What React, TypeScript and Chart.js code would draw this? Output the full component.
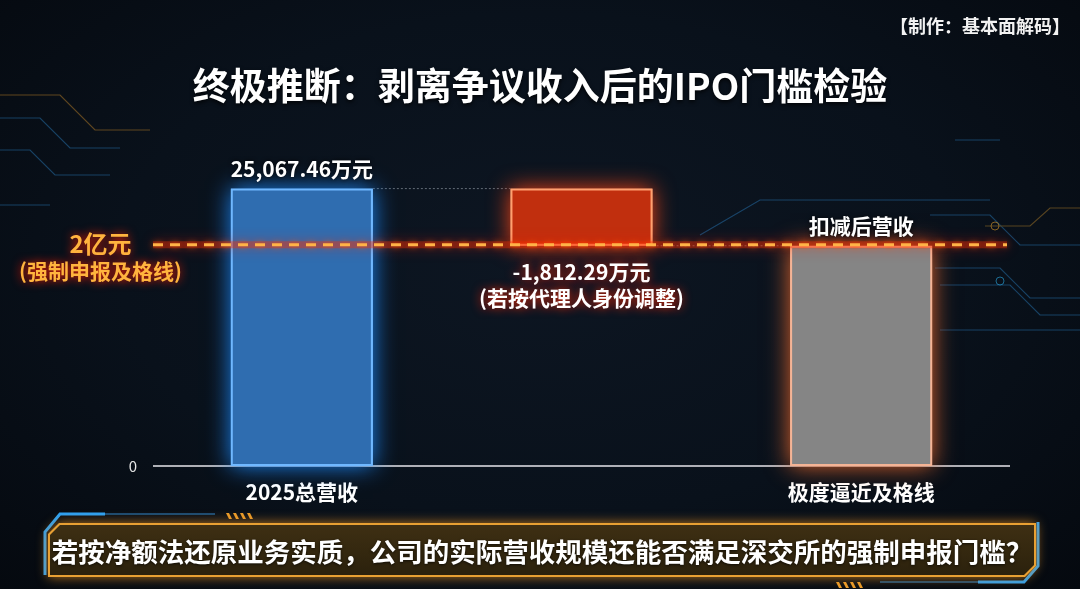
import React, { useEffect, useRef } from 'react';
import { Chart, registerables } from 'chart.js';

Chart.register(...registerables);

// ---- data ----
const categories = ['2025总营收', '', '极度逼近及格线'];
const barStarts = [0, 19900, 0];
const barEnds = [25067.46, 25067.46, 19900];
const valueLabels = ['25,067.46万元', '-1,812.29万元', '扣减后营收'];
const subLabels = ['', '(若按代理人身份调整)', ''];
const labelPlacement = ['above', 'below', 'above'];
const thresholdValue = 20000;
const thresholdLabels = ['2亿元', '(强制申报及格线)'];
const yTicks = [0];
const yMax = 30000;
const titleText = '终极推断：剥离争议收入后的IPO门槛检验';
const creditText = '【制作：基本面解码】';
const bannerText = '若按净额法还原业务实质，公司的实际营收规模还能否满足深交所的强制申报门槛？';

// ---- styles ----
const FONT = '"Noto Sans CJK SC", "Noto Sans", sans-serif';
const fillColors = ['#2f6db0', '#c12f0e', '#858585'];
const borderColors = ['#70b8ff', '#ffa070', '#f4b496'];
const glowColors = ['rgba(30,140,255,0.95)', 'rgba(255,70,20,0.95)', 'rgba(235,105,45,0.95)'];

const decorPlugin = {
  id: 'decor',
  beforeDatasetsDraw(chart: any) {
    const { ctx, chartArea, scales } = chart;
    const ys = scales.y;
    const y0 = ys.getPixelForValue(0);
    ctx.save();
    ctx.strokeStyle = 'rgba(205,205,210,0.85)';
    ctx.lineWidth = 2;
    ctx.beginPath();
    ctx.moveTo(chartArea.left - 9, y0);
    ctx.lineTo(chartArea.right + 9, y0);
    ctx.stroke();
    ctx.restore();

    const meta = chart.getDatasetMeta(0);
    // connectors
    ctx.save();
    ctx.strokeStyle = 'rgba(170,180,190,0.55)';
    ctx.lineWidth = 1;
    ctx.setLineDash([2, 2]);
    for (let i = 0; i < meta.data.length - 1; i++) {
      const a = meta.data[i].getProps(['x', 'y', 'base', 'width'], true);
      const b = meta.data[i + 1].getProps(['x', 'y', 'base', 'width'], true);
      const yy = i === 0 ? a.y : a.base;
      ctx.beginPath();
      ctx.moveTo(a.x + a.width / 2, yy);
      ctx.lineTo(b.x - b.width / 2, yy);
      ctx.stroke();
    }
    ctx.restore();

    // glow
    meta.data.forEach((bar: any, i: number) => {
      const p = bar.getProps(['x', 'y', 'base', 'width'], true);
      ctx.save();
      ctx.shadowColor = glowColors[i];
      ctx.shadowBlur = 22;
      ctx.fillStyle = borderColors[i];
      ctx.fillRect(p.x - p.width / 2, Math.min(p.y, p.base), p.width, Math.abs(p.base - p.y));
      ctx.restore();
    });
  },
  afterDatasetsDraw(chart: any) {
    const { ctx, chartArea, scales } = chart;
    const ys = scales.y;
    const ty = ys.getPixelForValue(thresholdValue);
    const x1 = chartArea.left - 9;
    const x2 = chartArea.right + 6;

    // threshold glow band
    ctx.save();
    ctx.strokeStyle = 'rgba(255,40,0,0.35)';
    ctx.lineWidth = 7;
    ctx.shadowColor = 'rgba(255,30,0,0.9)';
    ctx.shadowBlur = 14;
    ctx.beginPath();
    ctx.moveTo(x1, ty);
    ctx.lineTo(x2, ty);
    ctx.stroke();
    ctx.restore();

    ctx.save();
    ctx.strokeStyle = '#ffb347';
    ctx.lineWidth = 3;
    ctx.setLineDash([10, 7]);
    ctx.shadowColor = 'rgba(255,90,0,0.9)';
    ctx.shadowBlur = 6;
    ctx.beginPath();
    ctx.moveTo(x1, ty);
    ctx.lineTo(x2, ty);
    ctx.stroke();
    ctx.restore();

    // threshold labels
    ctx.save();
    ctx.textAlign = 'center';
    ctx.textBaseline = 'middle';
    ctx.fillStyle = '#ffb43e';
    ctx.shadowColor = 'rgba(255,30,0,1)';
    ctx.shadowBlur = 10;
    ctx.font = `bold 24px ${FONT}`;
    const lx = (chartArea.left - 9) / 2 + 22;
    ctx.fillText(thresholdLabels[0], lx + 2, ty - 1);
    ctx.font = `bold 21px ${FONT}`;
    ctx.fillText(thresholdLabels[1], lx + 2, ty + 26);
    ctx.restore();

    // bar labels
    const meta = chart.getDatasetMeta(0);
    meta.data.forEach((bar: any, i: number) => {
      const p = bar.getProps(['x', 'y', 'base'], true);
      ctx.save();
      ctx.textAlign = 'center';
      ctx.textBaseline = 'middle';
      ctx.fillStyle = '#ffffff';
      if (labelPlacement[i] === 'above') {
        ctx.shadowColor = 'rgba(0,0,0,0.8)';
        ctx.shadowBlur = 4;
        ctx.font = `bold 21px ${FONT}`;
        ctx.fillText(valueLabels[i], p.x, Math.min(p.y, p.base) - 20);
      } else {
        ctx.shadowColor = 'rgba(255,40,0,0.9)';
        ctx.shadowBlur = 10;
        const bottom = Math.max(p.y, p.base);
        ctx.font = `bold 21px ${FONT}`;
        ctx.fillText(valueLabels[i], p.x, bottom + 26);
        ctx.font = `bold 21px ${FONT}`;
        ctx.fillText(subLabels[i], p.x, bottom + 52);
      }
      ctx.restore();
    });
  },
};

function Decorations() {
  return (
    <svg width={1080} height={589} style={{ position: 'absolute', left: 0, top: 0 }}>
      <g fill="none" strokeWidth={1.2} opacity={0.45}>
        <polyline points="0,95 60,95 95,130 150,130" stroke="#c98a2a" />
        <polyline points="0,118 40,118 70,148 120,148" stroke="#2a7fc0" />
        <polyline points="0,150 30,150 55,175 110,175" stroke="#2a7fc0" />
        <polyline points="0,205 50,205" stroke="#2a7fc0" />
        <polyline points="930,215 990,215 1020,245 1080,245" stroke="#2a7fc0" />
        <polyline points="985,226 1030,226 1050,208 1080,208" stroke="#b8842a" />
        <polyline points="935,268 1000,268 1030,298 1080,298" stroke="#2a7fc0" />
        <polyline points="940,285 1010,285 1040,315 1080,315" stroke="#2a7fc0" />
        <polyline points="940,330 1080,330" stroke="#2a7fc0" />
        <polyline points="955,140 1000,140" stroke="#2a7fc0" />
        <polyline points="700,235 760,200 990,200" stroke="#2a7fc0" />
      </g>
      <circle cx={832} cy={268} r={3} fill="#2aa7e0" opacity={0.7} />
      <circle cx={995} cy={226} r={4} fill="none" stroke="#b8842a" opacity={0.7} />
      <circle cx={1000} cy={281} r={4} fill="none" stroke="#2aa7e0" opacity={0.6} />
      <polyline points="45,575 45,532 60,514 105,514" fill="none" stroke="#2aa0f5" strokeWidth={3} />
      <polyline points="105,514 215,514" fill="none" stroke="#2a86d0" strokeWidth={1.2} />
      <polyline points="1038,522 1038,566 1024,582 978,582" fill="none" stroke="#2aa0f5" strokeWidth={3} />
      <polyline points="978,582 880,582" fill="none" stroke="#2a86d0" strokeWidth={1.2} />
      <g fill="#e89a2a">
        <polygon points="226,513 229,513 232,519 229,519" />
        <polygon points="233,513 236,513 239,519 236,519" />
        <polygon points="240,513 243,513 246,519 243,519" />
        <polygon points="247,513 250,513 253,519 250,519" />
        <polygon points="836,582 839,582 842,588 839,588" />
        <polygon points="843,582 846,582 849,588 846,588" />
        <polygon points="850,582 853,582 856,588 853,588" />
        <polygon points="857,582 860,582 863,588 860,588" />
      </g>
    </svg>
  );
}

export default function App() {
  const canvasRef = useRef<HTMLCanvasElement | null>(null);

  useEffect(() => {
    if (!canvasRef.current) return;
    const chart = new Chart(canvasRef.current, {
      type: 'bar',
      data: {
        labels: categories,
        datasets: [
          {
            data: barStarts.map((s, i) => [s, barEnds[i]]) as any,
            backgroundColor: fillColors,
            borderColor: borderColors,
            borderWidth: 2,
            borderSkipped: false,
            categoryPercentage: 1,
            barPercentage: 0.508,
          },
        ],
      },
      options: {
        responsive: false,
        animation: false,
        layout: { padding: { top: 134, right: 79, left: 0, bottom: 0 } },
        plugins: {
          legend: { display: false },
          tooltip: { enabled: false },
          title: { display: false },
        },
        scales: {
          x: {
            grid: { display: false, drawTicks: false },
            border: { display: false },
            ticks: {
              color: '#ffffff',
              font: { family: FONT, size: 21, weight: 'bold' },
              padding: 13,
            },
            afterFit: (s: any) => {
              s.height = 123;
            },
          },
          y: {
            min: 0,
            max: yMax,
            grid: { display: false, drawTicks: false },
            border: { display: false },
            ticks: {
              stepSize: yMax,
              color: '#e8e8e8',
              font: { family: FONT, size: 15 },
              padding: 25,
              callback: (v: any) => (yTicks.includes(Number(v)) ? String(v) : ''),
            },
            afterFit: (s: any) => {
              s.width = 162;
            },
          },
        },
      } as any,
      plugins: [decorPlugin],
    });
    return () => chart.destroy();
  }, []);

  const bannerClip =
    'polygon(11px 0, 100% 0, 100% calc(100% - 11px), calc(100% - 11px) 100%, 0 100%, 0 11px)';

  return (
    <div
      style={{
        position: 'fixed',
        left: 0,
        top: 0,
        width: 1080,
        height: 589,
        overflow: 'hidden',
        background:
          'radial-gradient(ellipse at 50% 45%, #0d1622 0%, #09111b 55%, #05090f 100%)',
        fontFamily: FONT,
      }}
    >
      <Decorations />
      <canvas
        ref={canvasRef}
        width={1080}
        height={589}
        style={{ position: 'absolute', left: 0, top: 0, width: 1080, height: 589 }}
      />
      <div
        style={{
          position: 'absolute',
          right: 10,
          top: 13,
          fontSize: 18,
          lineHeight: '24px',
          fontWeight: 700,
          color: '#f2f2f2',
        }}
      >
        {creditText}
      </div>
      <div
        style={{
          position: 'absolute',
          left: 0,
          top: 61,
          width: 1080,
          textAlign: 'center',
          fontSize: 37,
          lineHeight: '46px',
          fontWeight: 700,
          color: '#ffffff',
          textShadow: '0 2px 4px rgba(0,0,0,0.8)',
        }}
      >
        {titleText}
      </div>
      <div
        style={{
          position: 'absolute',
          left: 48,
          top: 523,
          width: 988,
          height: 54,
          filter: 'drop-shadow(0 0 6px rgba(240,150,30,0.75))',
        }}
      >
        <div
          style={{
            position: 'absolute',
            inset: 0,
            background: '#e8a033',
            clipPath: bannerClip,
          }}
        >
          <div
            style={{
              position: 'absolute',
              left: 2,
              top: 2,
              right: 2,
              bottom: 2,
              background: 'linear-gradient(180deg, #3e2f13 0%, #33270f 60%, #2b210d 100%)',
              clipPath:
                'polygon(10px 0, 100% 0, 100% calc(100% - 10px), calc(100% - 10px) 100%, 0 100%, 0 10px)',
            }}
          />
        </div>
        <div
          style={{
            position: 'absolute',
            inset: 0,
            display: 'flex',
            alignItems: 'center',
            justifyContent: 'center',
            fontSize: 26.5,
            fontWeight: 700,
            color: '#ffffff',
            whiteSpace: 'nowrap',
            textShadow: '0 1px 3px rgba(0,0,0,0.7)',
          }}
        >
          {bannerText}
        </div>
      </div>
    </div>
  );
}
